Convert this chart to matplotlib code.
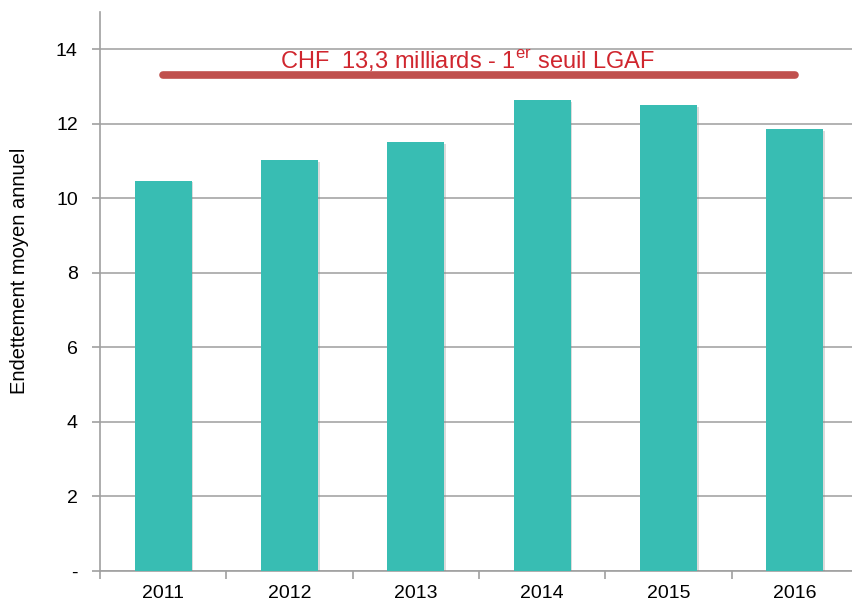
import matplotlib.pyplot as plt
import matplotlib.patheffects as pe

# average annual debt (CHF billions)
years = ['2011', '2012', '2013', '2014', '2015', '2016']
debt = [10.47, 11.03, 11.51, 12.63, 12.50, 11.86]
threshold = 13.3
threshold_label = 'CHF  13,3 milliards - 1$^{\\mathrm{er}}$ seuil LGAF'
yticks = [0, 2, 4, 6, 8, 10, 12, 14]
ytick_labels = ['-', '2', '4', '6', '8', '10', '12', '14']

plt.rcParams['font.family'] = ['Liberation Sans', 'DejaVu Sans']
plt.rcParams['mathtext.fontset'] = 'custom'
plt.rcParams['mathtext.rm'] = 'Liberation Sans'

fig = plt.figure(figsize=(8.52, 6.02), dpi=100)
ax = fig.add_axes([100 / 852, 31 / 602, 758 / 852, 559 / 602])

x = range(len(years))
bars = ax.bar(x, debt, width=0.45, color='#38bdb3', zorder=3)
for b in bars:
    b.set_path_effects([pe.SimplePatchShadow(offset=(1.2, -1.2), shadow_rgbFace='#888888', alpha=0.3), pe.Normal()])

# threshold line with label
ax.plot([0, len(years) - 1], [threshold, threshold], color='#c0504d', lw=5.5,
        solid_capstyle='round', zorder=4)
ax.text(2.41, threshold + 0.03, threshold_label, color='#d0262e', fontsize=17,
        ha='center', va='bottom', zorder=5)

ax.set_xlim(-0.5, len(years) - 0.5)
ax.set_ylim(0, 15)
ax.set_yticks(yticks)
ax.set_yticklabels(ytick_labels, fontsize=14)
ax.set_xticks(list(x))
ax.set_xticklabels(years, fontsize=14)
ax.set_xticks([i - 0.5 for i in range(len(years) + 1)], minor=True)
ax.tick_params(axis='x', which='major', length=0, pad=10)
ax.tick_params(axis='x', which='minor', length=6, color='#a0a0a0', width=1.2)
ax.tick_params(axis='y', length=6, color='#a0a0a0', width=1.2, pad=10)

ax.grid(axis='y', color='#a6a6a6', lw=1.2, zorder=0)
for s in ['top', 'right']:
    ax.spines[s].set_visible(False)
for s in ['left', 'bottom']:
    ax.spines[s].set_color('#a0a0a0')
    ax.spines[s].set_linewidth(1.2)

fig.text(20 / 852, 1 - 271 / 602, 'Endettement moyen annuel', rotation=90,
         fontsize=14.5, ha='center', va='center')

fig.savefig('out.png', dpi=100)
